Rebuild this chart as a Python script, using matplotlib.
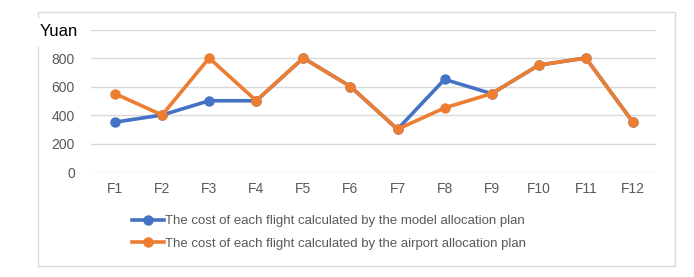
import matplotlib.pyplot as plt
from matplotlib.patches import Rectangle

flights = ['F1', 'F2', 'F3', 'F4', 'F5', 'F6', 'F7', 'F8', 'F9', 'F10', 'F11', 'F12']
model_cost = [350, 400, 500, 500, 800, 600, 300, 650, 550, 750, 800, 350]
airport_cost = [550, 400, 800, 500, 800, 600, 300, 450, 550, 750, 800, 350]

blue = '#4472C4'
orange = '#ED7D31'
gray = '#595959'

plt.rcParams['font.family'] = ['Liberation Sans', 'DejaVu Sans']

fig = plt.figure(figsize=(6.94, 2.77), dpi=100)
fig.patches.append(Rectangle((38/694, 1-266/277), 637/694, 254/277,
                             transform=fig.transFigure, fill=False,
                             edgecolor='#D9D9D9', linewidth=1))

ax = fig.add_axes([0.1318, 0.379, 0.8141, 0.5145])
x = range(len(flights))
ax.plot(x, model_cost, color=blue, lw=2.6, marker='o', ms=6.5,
        label='The cost of each flight calculated by the model allocation plan')
ax.plot(x, airport_cost, color=orange, lw=2.6, marker='o', ms=6.5,
        label='The cost of each flight calculated by the airport allocation plan')

ax.set_xlim(-0.5, len(flights) - 0.5)
ax.set_ylim(0, 1000)
ax.set_yticks([0, 200, 400, 600, 800, 1000])
ax.set_yticklabels(['0', '200', '400', '600', '800', ''])
ax.set_xticks(list(x))
ax.set_xticklabels(flights)
ax.grid(axis='y', color='#D9D9D9', lw=1)
ax.set_axisbelow(True)
for s in ax.spines.values():
    s.set_visible(False)
ax.tick_params(length=0, labelsize=10, labelcolor=gray, pad=7)
ax.tick_params(axis='y', pad=12)

fig.text(40/694, 1-32/277, 'Yuan', fontsize=12, color='black', va='center', ha='left',
         bbox=dict(facecolor='white', edgecolor='none', pad=5))

fig.legend(loc='upper left', bbox_to_anchor=(132/694, 1-215/277), frameon=False,
           fontsize=9.5, labelcolor=gray, handlelength=2.4, handletextpad=0.1,
           labelspacing=0.8, borderaxespad=0, borderpad=0)

fig.savefig('out.png', dpi=100)
